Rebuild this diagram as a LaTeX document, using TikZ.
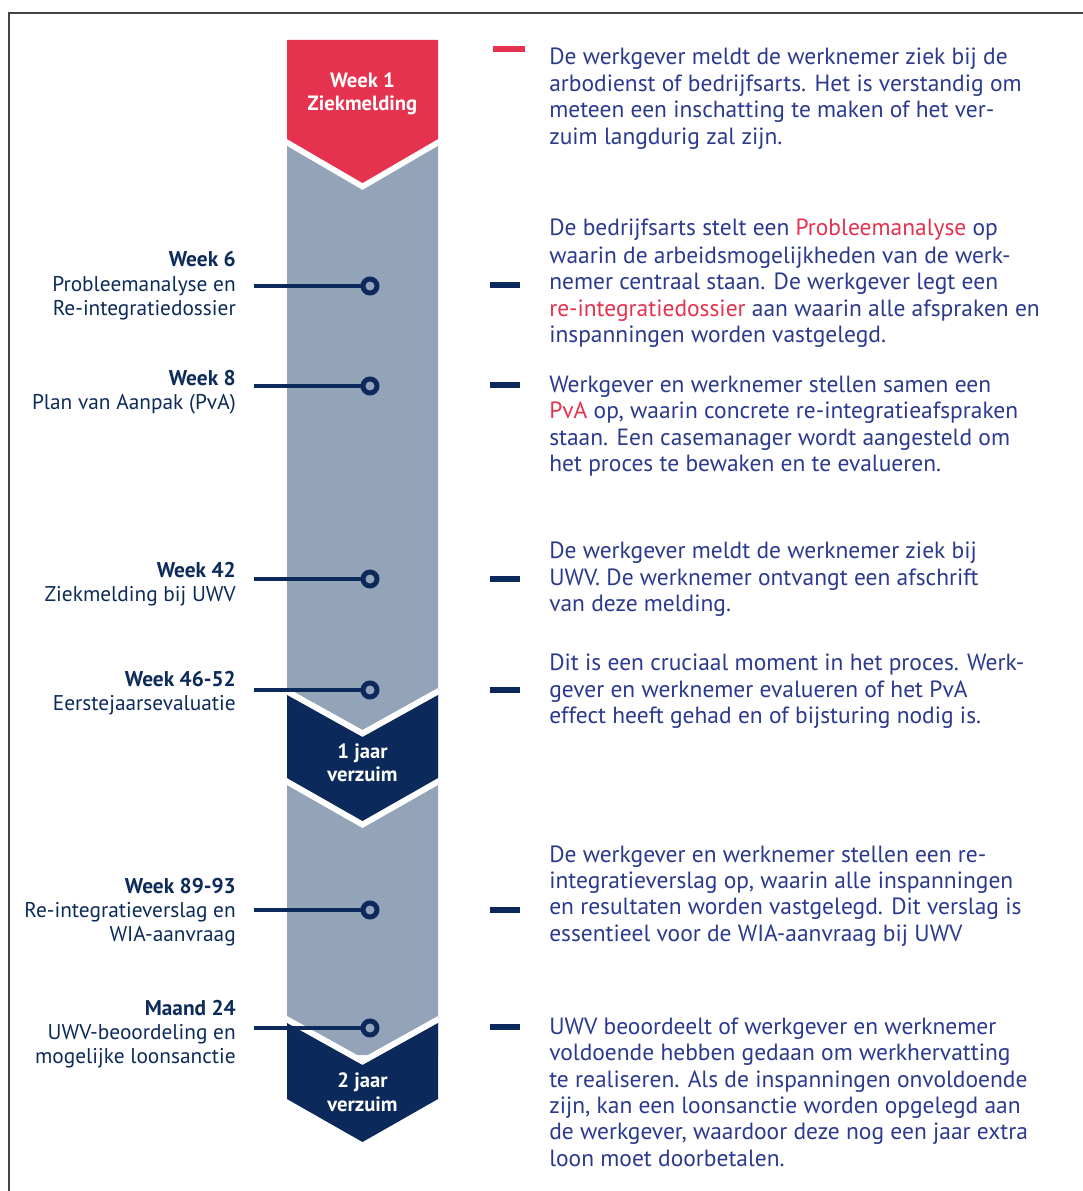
\documentclass[tikz,border=0pt]{standalone}
\usepackage{fontspec}
\setmainfont{PT Sans}
\definecolor{cred}{HTML}{E5324E}
\definecolor{cgrey}{HTML}{93A3B8}
\definecolor{cnavy}{HTML}{0B2A5B}
\definecolor{ctext}{HTML}{2B3A8E}
\definecolor{clabel}{HTML}{0D2B5A}
\definecolor{cframe}{HTML}{444444}
\newcommand{\rw}[1]{\textcolor{cred}{#1}}
\tikzset{
  x=0.75pt, y=-0.75pt,
  rtext/.style={anchor=base west, inner sep=0pt, text=ctext, font=\fontsize{17.6pt}{20pt}\selectfont},
  ltext/.style={anchor=base east, inner sep=0pt, text=clabel, font=\fontsize{16pt}{19pt}\selectfont},
  lbold/.style={ltext, font=\fontsize{16pt}{19pt}\selectfont\bfseries},
  ctitle/.style={anchor=base, inner sep=0pt, text=white, font=\fontsize{15.5pt}{19pt}\selectfont\bfseries},
  dotc/.style={circle, draw=cnavy, line width=3.7pt, fill=cgrey, minimum size=10.5pt, inner sep=0pt},
  conn/.style={draw=cnavy, line width=3.6pt},
}
\begin{document}
\begin{tikzpicture}
\useasboundingbox (0,0) rectangle (1082,1191);
\fill[white] (0,0) rectangle (1082,1191);
% frame
\draw[cframe, line width=1.3pt] (9,1195) -- (9,13) -- (1090,13);
% column
\begin{scope}
\clip (287,0) rectangle (438,1191);
\fill[cred] (287,40) -- (438,40) -- (438,139) -- (362.5,183) -- (287,139) -- cycle;
\fill[cgrey] (287,146) -- (362.5,190) -- (438,146) -- (438,1055) -- (287,1055) -- cycle;
% navy 1
\fill[white] (287,688) -- (362.5,730) -- (438,688) -- (438,785) -- (362.5,828) -- (287,785) -- cycle;
\fill[cnavy] (287,695) -- (362.5,737) -- (438,695) -- (438,778) -- (362.5,821) -- (287,778) -- cycle;
% navy 2
\fill[white] (287,1016) -- (362.5,1058) -- (438,1016) -- (438,1099) -- (362.5,1142) -- (287,1099) -- cycle;
\fill[cnavy] (287,1023) -- (362.5,1065) -- (438,1023) -- (438,1099) -- (362.5,1142) -- (287,1099) -- cycle;
\end{scope}
% chevron titles
\node[ctitle] (t1a) at (362.5,88) {Week 1};
\node[ctitle] (t1b) at (362.5,111) {Ziekmelding};
\node[ctitle] (t2a) at (362.5,758) {1 jaar};
\node[ctitle] (t2b) at (362.5,781) {verzuim};
\node[ctitle] (t3a) at (362.5,1087) {2 jaar};
\node[ctitle] (t3b) at (362.5,1111) {verzuim};
% connectors with circles
\foreach \i/\y in {1/286,2/386,3/579,4/690,5/910,6/1028}{
  \coordinate (s\i) at (254,\y);
  \node[dotc] (c\i) at (370,\y) {};
  \draw[conn] (s\i) -- (c\i);
}
% marker dashes
\draw[cred, line width=4.5pt] (493,49) -- (525,49);
\foreach \y in {285,385,579,690,910,1027}{
  \draw[cnavy, line width=4pt] (490,\y) -- (520,\y);
}
% left labels
\node[lbold] (l1) at (236,267) {Week 6};
\node[ltext] (l1b) at (236,291) {Probleemanalyse en};
\node[ltext] (l1c) at (236,315) {Re-integratiedossier};
\node[lbold] (l2) at (236,385) {Week 8};
\node[ltext] (l2b) at (236,409) {Plan van Aanpak (PvA)};
\node[lbold] (l3) at (236,577) {Week 42};
\node[ltext] (l3b) at (236,601) {Ziekmelding bij UWV};
\node[lbold] (l4) at (236,686) {Week 46-52};
\node[ltext] (l4b) at (236,710) {Eerstejaarsevaluatie};
\node[lbold] (l5) at (236,893) {Week 89-93};
\node[ltext] (l5b) at (236,917) {Re-integratieverslag en};
\node[ltext] (l5c) at (236,941) {WIA-aanvraag};
\node[lbold] (l6) at (236,1015) {Maand 24};
\node[ltext] (l6b) at (236,1039) {UWV-beoordeling en};
\node[ltext] (l6c) at (236,1063) {mogelijke loonsanctie};
% right texts
\foreach \y/\t [count=\k] in {
  65/{De werkgever meldt de werknemer ziek bij de},
  92/{arbodienst of bedrijfsarts. Het is verstandig om},
  118/{meteen een inschatting te maken of het ver-},
  145/{zuim langdurig zal zijn.},
  236/{De bedrijfsarts stelt een \rw{Probleemanalyse} op},
  263/{waarin de arbeidsmogelijkheden van de werk-},
  289/{nemer centraal staan. De werkgever legt een},
  316/{\rw{re-integratiedossier} aan waarin alle afspraken en},
  342/{inspanningen worden vastgelegd.},
  392/{Werkgever en werknemer stellen samen een},
  418/{\rw{PvA} op, waarin concrete re-integratieafspraken},
  445/{staan. Een casemanager wordt aangesteld om},
  471/{het proces te bewaken en te evalueren.},
  558/{De werkgever meldt de werknemer ziek bij},
  585/{UWV. De werknemer ontvangt een afschrift},
  611/{van deze melding.},
  670/{Dit is een cruciaal moment in het proces. Werk-},
  697/{gever en werknemer evalueren of het PvA},
  723/{effect heeft gehad en of bijsturing nodig is.},
  862/{De werkgever en werknemer stellen een re-},
  888/{integratieverslag op, waarin alle inspanningen},
  914/{en resultaten worden vastgelegd. Dit verslag is},
  941/{essentieel voor de WIA-aanvraag bij UWV},
  1034/{UWV beoordeelt of werkgever en werknemer},
  1060/{voldoende hebben gedaan om werkhervatting},
  1087/{te realiseren. Als de inspanningen onvoldoende},
  1113/{zijn, kan een loonsanctie worden opgelegd aan},
  1139/{de werkgever, waardoor deze nog een jaar extra},
  1166/{loon moet doorbetalen.}}{
  \node[rtext] (r\k) at (549,\y) {\t};
}
\end{tikzpicture}
\end{document}
